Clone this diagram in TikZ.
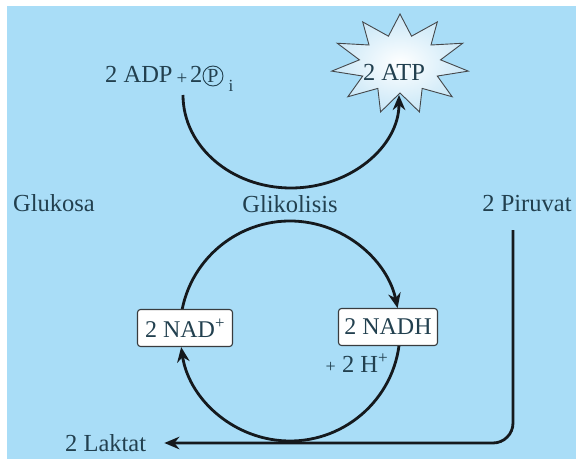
\documentclass[tikz,border=0pt]{standalone}
\usepackage{fontspec}
\setmainfont{Liberation Serif}
\usetikzlibrary{arrows.meta,calc}
\definecolor{bgblue}{HTML}{A9DDF7}
\definecolor{txt}{HTML}{22404F}
\definecolor{ink}{HTML}{15191D}
\definecolor{starout}{HTML}{C9E7F7}
\begin{document}
\begin{tikzpicture}[x=1pt,y=1pt,
  lbl/.style={text=txt, font=\fontsize{24.5}{27}\selectfont, inner sep=0pt},
  conn/.style={line width=2.8pt, draw=ink, -{Stealth[length=15pt,width=12.5pt]}},
  boxnode/.style={draw=ink!85, fill=white, rounded corners=3pt, line width=1.1pt,
    text=txt, font=\fontsize{24}{26}\selectfont, inner sep=0pt, minimum height=37pt}]
\useasboundingbox (0,0) rectangle (576,459);
\fill[white] (0,0) rectangle (576,459);
\fill[bgblue] (7,0) rectangle (576,453);

% ADP + Pi
\node[lbl, anchor=base west] (adp) at (105,376) {2 ADP};
\node[text=txt, font=\fontsize{19}{19}\selectfont, inner sep=0pt, anchor=base] (plus) at (182,374) {+};
\node[lbl, anchor=base west] (two) at (190,376) {2};
\node[circle, draw=txt, line width=0.9pt, minimum size=20pt, inner sep=0pt, text=txt,
  font=\fontsize{20}{20}\selectfont] (pi) at (213,383) {P};
\node[text=txt, font=\fontsize{17}{17}\selectfont, inner sep=0pt, anchor=base] (isub) at (231,367) {i};

% star
\coordinate (sc) at (400,395);
\path[draw=ink!80, line width=0.9pt, inner color=white, outer color=starout, shade]
  ($(sc)+(90:69 and 50)$)
  \foreach \k in {1,...,11} {
    -- ($(sc)+({90+(2*\k-1)*360/22}:41 and 29)$)
    -- ($(sc)+({90+\k*360/11}:69 and 50)$)
  } -- cycle;
\node[lbl] (atp) at (394,387) {2 ATP};

% upper arc
\coordinate (a0) at (183,364);
\draw[conn] (a0) arc[start angle=180, end angle=360, x radius=108, y radius=93];

% labels
\node[lbl, anchor=west] (glu) at (13,256) {Glukosa};
\node[lbl] (gli) at (290,255) {Glikolisis};
\node[lbl] (piru) at (527,255) {2 Piruvat};
\node[lbl, anchor=west] (lak) at (65,16) {2 Laktat};

% lower cycle
\coordinate (cc) at (290,128);
\draw[conn] ($(cc)+(169:110)$) arc[start angle=169, end angle=12, radius=110];
\draw[conn] ($(cc)+(-7.3:110)$) arc[start angle=-7.3, end angle=-171.6, radius=110];

\node[boxnode, minimum width=95pt] (nad) at (185,131) {2 NAD\textsuperscript{+}};
\node[boxnode, minimum width=99pt] (nadh) at (388,132) {2 NADH};
\node[lbl] (hplus) at (357,96) {{\fontsize{18}{18}\selectfont +} 2 H\textsuperscript{+}};

% piruvat to laktat
\coordinate (p0) at (513,229);
\draw[conn, rounded corners=20pt] (p0) |- ($(lak.east)+(18,0)$);
\end{tikzpicture}
\end{document}
